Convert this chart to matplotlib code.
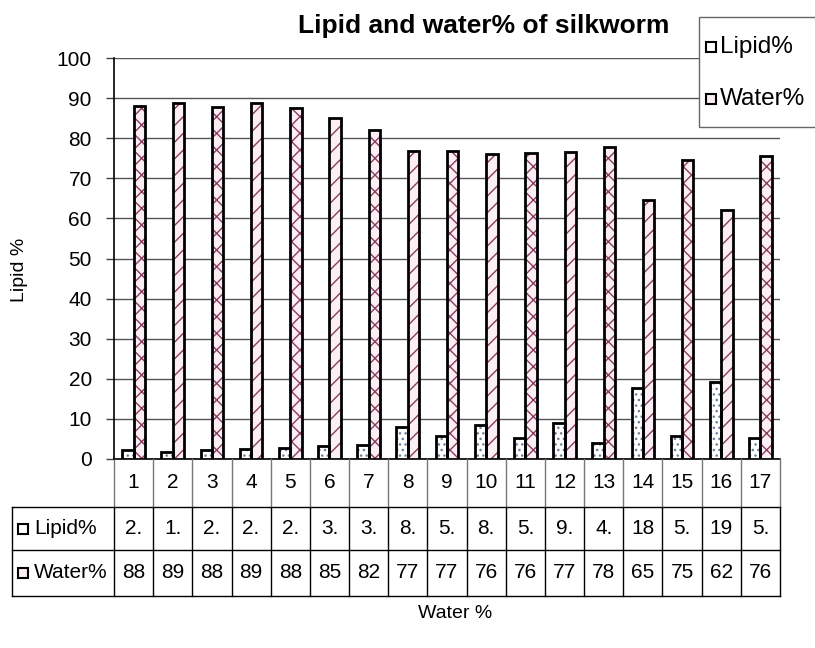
import matplotlib
matplotlib.use("Agg")
import matplotlib.pyplot as plt
from matplotlib.patches import Rectangle
from matplotlib.lines import Line2D

plt.rcParams['font.family'] = ['Liberation Sans', 'DejaVu Sans']
plt.rcParams['hatch.linewidth'] = 1.0

categories = [str(i) for i in range(1, 18)]
lipid = [2.3, 1.8, 2.3, 2.6, 2.8, 3.3, 3.6, 8.1, 5.8, 8.6, 5.2, 9.0, 4.1, 17.6, 5.8, 19.3, 5.3]
water = [88.0, 88.8, 87.8, 88.8, 87.6, 85.1, 82.0, 76.8, 76.8, 76.0, 76.3, 76.6, 77.7, 64.6, 74.6, 62.2, 75.5]
title = "Lipid and water% of silkworm"
series_names = ["Lipid%", "Water%"]

def lipid_label(v):
    return f"{int(v)}." if v < 10 else f"{round(v)}"

lipid_labels = [lipid_label(v) for v in lipid]
water_labels = [f"{round(v)}" for v in water]

W, H = 815, 648
fig = plt.figure(figsize=(W / 100, H / 100), dpi=100)

L, R, T, B = 114, 780, 58, 459
ax = fig.add_axes([L / W, 1 - B / H, (R - L) / W, (B - T) / H])

n = len(categories)
xs = list(range(n))
bw = 0.29
pink = '#fbeef5'
hatch_col = '#8a3d5c'
dot_col = '#6f7f99'
for i in xs:
    ax.bar(i - bw / 2, lipid[i], width=bw, facecolor='white', edgecolor=dot_col,
           hatch='...', linewidth=0, zorder=3)
    ax.bar(i - bw / 2, lipid[i], width=bw, fill=False, edgecolor='black',
           linewidth=2.0, zorder=4)
    ax.bar(i + bw / 2, water[i], width=bw, facecolor=pink, edgecolor=hatch_col,
           hatch='xx' if i % 2 == 0 else '//', linewidth=0, zorder=3)
    ax.bar(i + bw / 2, water[i], width=bw, fill=False, edgecolor='black',
           linewidth=2.0, zorder=4)

ax.set_xlim(-0.5, n - 0.5)
ax.set_ylim(0, 100)
ax.set_yticks(range(0, 101, 10))
ax.set_xticks([])
ax.tick_params(axis='y', labelsize=15, length=6, width=1, pad=10, color='#444444')
for s in ['top', 'right', 'bottom']:
    ax.spines[s].set_visible(False)
ax.spines['left'].set_color('black')
ax.spines['left'].set_linewidth(1.2)
ax.yaxis.grid(True, color='#555555', linewidth=1.0, zorder=0)
ax.set_axisbelow(True)
ax.set_facecolor('none')

def fy(px):
    return (B - px) / (B - T)

def fx(px):
    return (px - L) / (R - L)

row_y = [B, 507, 550, 596]
tk = dict(transform=ax.transAxes, clip_on=False)
ax.add_line(Line2D([0, 1], [fy(B), fy(B)], color='black', lw=1.2, **tk))
for yy in row_y[1:]:
    ax.add_line(Line2D([fx(12), 1], [fy(yy), fy(yy)], color='black', lw=1.0, **tk))
ax.add_line(Line2D([fx(12), fx(12)], [fy(507), fy(596)], color='black', lw=1.0, **tk))
for k in range(n + 1):
    xk = k / n
    ax.add_line(Line2D([xk, xk], [fy(B), fy(507)], color='#777777', lw=1.0, **tk))
    ax.add_line(Line2D([xk, xk], [fy(507), fy(596)], color='black', lw=1.0, **tk))

for i in xs:
    xc = (i + 0.5) / n
    ax.text(xc, fy((B + 507) / 2), categories[i], ha='center', va='center', fontsize=15, **tk)
    ax.text(xc, fy((507 + 550) / 2), lipid_labels[i], ha='center', va='center', fontsize=15, **tk)
    ax.text(xc, fy((550 + 596) / 2), water_labels[i], ha='center', va='center', fontsize=15, **tk)

for r, (name, fc) in enumerate(zip(series_names, ['white', pink])):
    yc = (row_y[r + 1] + row_y[r + 2]) / 2
    sq = Rectangle((fx(18), fy(yc + 5)), fx(28) - fx(18), fy(yc - 5) - fy(yc + 5),
                   facecolor=fc, edgecolor='black', lw=1.5, **tk)
    ax.add_patch(sq)
    ax.text(fx(34), fy(yc), name, ha='left', va='center', fontsize=15, **tk)

fig.text(484 / W, 1 - 26 / H, title, ha='center', va='center', fontsize=19,
         fontweight='bold')
fig.text(20 / W, 1 - 270 / H, "Lipid %", ha='center', va='center', rotation=90, fontsize=14)
fig.text(455 / W, 1 - 613 / H, "Water %", ha='center', va='center', fontsize=14)

ft = fig.transFigure
def px2f(x, y):
    return (x / W, 1 - y / H)
lx0, ly0, lx1, ly1 = 699, 17, 816, 127
fig.add_artist(Rectangle(px2f(lx0, ly1), (lx1 - lx0) / W, (ly1 - ly0) / H,
                         facecolor='white', edgecolor='#666666', lw=1.0, transform=ft))
for name, fc, yc in zip(series_names, ['white', pink], [47, 99]):
    fig.add_artist(Rectangle(px2f(706, yc + 5), 10 / W, 10 / H, facecolor=fc,
                             edgecolor='black', lw=1.5, transform=ft))
    fig.text(720 / W, 1 - yc / H, name, ha='left', va='center', fontsize=17.5)

fig.savefig('out.png', dpi=100)
